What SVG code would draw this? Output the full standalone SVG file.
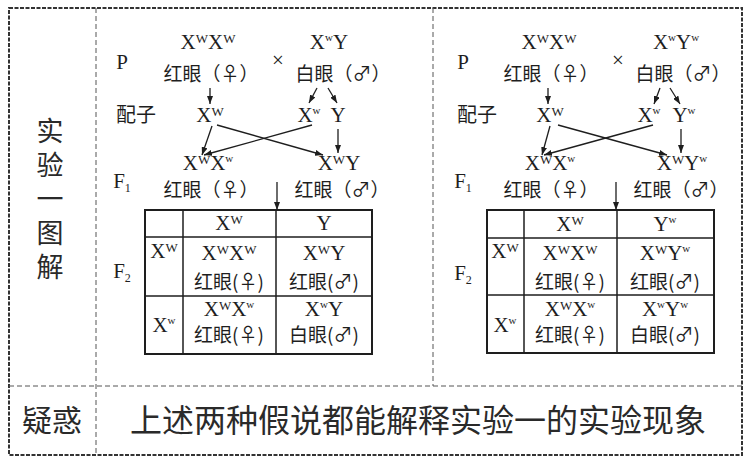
<svg xmlns="http://www.w3.org/2000/svg" width="755" height="473" viewBox="0 0 755 473">
<defs>
<style>
.lat{font-family:"Liberation Serif","Times New Roman",serif;font-size:21px;fill:#1e1e1e}
.cjk{font-family:"Noto Sans CJK SC","Noto Sans",sans-serif;font-size:19px;fill:#1e1e1e}
.big{font-family:"Noto Sans CJK SC","Noto Sans",sans-serif;font-size:30px;fill:#2a2a2a}
.col{font-family:"Noto Sans CJK SC","Noto Sans",sans-serif;font-size:27px;fill:#2a2a2a;writing-mode:vertical-rl;letter-spacing:7px}
.W{font-size:13px}
.w{font-size:11px}
.sub{font-size:12px}
.outer{fill:none;stroke:#333;stroke-width:2;stroke-dasharray:4 1.5}
.div{fill:none;stroke:#555;stroke-width:1;stroke-dasharray:5 3}
.tb{fill:none;stroke:#1e1e1e;stroke-width:2}
.tl{stroke:#1e1e1e;stroke-width:1.5}
.ar{stroke:#1e1e1e;stroke-width:1.3;fill:none;marker-end:url(#ah)}
</style>
<marker id="ah" viewBox="0 0 8 6" refX="8" refY="3" markerWidth="8" markerHeight="6" markerUnits="userSpaceOnUse" orient="auto"><path d="M0,0 L8,3 L0,6 z" fill="#1e1e1e"/></marker>
</defs>
<rect width="755" height="473" fill="#fff"/>

<g id="frame">
<rect class="outer" x="9" y="8" width="733" height="447"/>
<line class="div" x1="96" y1="8" x2="96" y2="455"/>
<line class="div" x1="433" y1="8" x2="433" y2="386"/>
<line class="div" x1="9" y1="386" x2="742" y2="386"/>
</g>

<g id="row-label-1">
<text class="col" x="50" y="117">实验一图解</text>
</g>
<g id="row-label-2"><text class="big" x="52" y="431" text-anchor="middle">疑惑</text></g>
<g id="conclusion"><text class="big" x="418" y="432" text-anchor="middle" style="font-size:32px">上述两种假说都能解释实验一的实验现象</text></g>

<!-- LEFT PANEL -->
<g id="L-labels">
<text class="lat" x="122" y="69" text-anchor="middle">P</text>
<text class="cjk" x="136" y="122" text-anchor="middle" style="font-size:20px">配子</text>
<text class="lat" x="122" y="188" text-anchor="middle">F<tspan class="sub" dy="4">1</tspan></text>
<text class="lat" x="122" y="278" text-anchor="middle">F<tspan class="sub" dy="4">2</tspan></text>
<text class="lat" x="278" y="67" text-anchor="middle" style="font-size:21px">×</text>
</g>
<g id="L-P-female">
<text class="lat" x="208" y="49" text-anchor="middle">X<tspan class="W" dy="-6">W</tspan><tspan dy="6">X</tspan><tspan class="W" dy="-6">W</tspan></text>
<text class="cjk" x="211" y="81" text-anchor="middle">红眼（♀）</text>
</g>
<g id="L-P-male">
<text class="lat" x="329" y="49" text-anchor="middle">X<tspan class="w" dy="-8">w</tspan><tspan dy="8">Y</tspan></text>
<text class="cjk" x="343" y="81" text-anchor="middle">白眼（♂）</text>
</g>
<g id="L-gam-1"><text class="lat" x="210" y="122" text-anchor="middle">X<tspan class="W" dy="-6">W</tspan></text></g>
<g id="L-gam-2"><text class="lat" x="309" y="122" text-anchor="middle">X<tspan class="w" dy="-8">w</tspan></text></g>
<g id="L-gam-3"><text class="lat" x="338" y="122" text-anchor="middle">Y</text></g>
<g id="L-F1-female">
<text class="lat" x="208" y="170" text-anchor="middle">X<tspan class="W" dy="-6">W</tspan><tspan dy="6">X</tspan><tspan class="w" dy="-8">w</tspan></text>
<text class="cjk" x="211" y="197" text-anchor="middle">红眼（♀）</text>
</g>
<g id="L-F1-male">
<text class="lat" x="339" y="170" text-anchor="middle">X<tspan class="W" dy="-6">W</tspan><tspan dy="6">Y</tspan></text>
<text class="cjk" x="342" y="197" text-anchor="middle">红眼（♂）</text>
</g>
<g id="L-table">
<rect class="tb" x="145" y="210" width="227" height="144"/>
<line class="tl" x1="145" y1="237" x2="372" y2="237"/>
<line class="tl" x1="145" y1="296" x2="372" y2="296"/>
<line class="tl" x1="183" y1="210" x2="183" y2="354"/>
<line class="tl" x1="276" y1="210" x2="276" y2="354"/>
<text class="lat" x="229" y="230" text-anchor="middle">X<tspan class="W" dy="-6">W</tspan></text>
<text class="lat" x="324" y="230" text-anchor="middle">Y</text>
<text class="lat" x="164" y="258" text-anchor="middle">X<tspan class="W" dy="-6">W</tspan></text>
<text class="lat" x="164" y="332" text-anchor="middle">X<tspan class="w" dy="-8">w</tspan></text>
<text class="lat" x="229" y="260" text-anchor="middle">X<tspan class="W" dy="-6">W</tspan><tspan dy="6">X</tspan><tspan class="W" dy="-6">W</tspan></text>
<text class="cjk" x="229" y="289" text-anchor="middle">红眼(♀)</text>
<text class="lat" x="324" y="260" text-anchor="middle">X<tspan class="W" dy="-6">W</tspan><tspan dy="6">Y</tspan></text>
<text class="cjk" x="324" y="289" text-anchor="middle">红眼(♂)</text>
<text class="lat" x="229" y="316" text-anchor="middle">X<tspan class="W" dy="-6">W</tspan><tspan dy="6">X</tspan><tspan class="w" dy="-8">w</tspan></text>
<text class="cjk" x="229" y="342" text-anchor="middle">红眼(♀)</text>
<text class="lat" x="324" y="316" text-anchor="middle">X<tspan class="w" dy="-8">w</tspan><tspan dy="8">Y</tspan></text>
<text class="cjk" x="324" y="342" text-anchor="middle">白眼(♂)</text>
</g>

<!-- RIGHT PANEL -->
<g id="R-labels">
<text class="lat" x="463" y="69" text-anchor="middle">P</text>
<text class="cjk" x="477" y="122" text-anchor="middle" style="font-size:20px">配子</text>
<text class="lat" x="463" y="188" text-anchor="middle">F<tspan class="sub" dy="4">1</tspan></text>
<text class="lat" x="463" y="280" text-anchor="middle">F<tspan class="sub" dy="4">2</tspan></text>
<text class="lat" x="618" y="67" text-anchor="middle" style="font-size:21px">×</text>
</g>
<g id="R-P-female">
<text class="lat" x="549" y="49" text-anchor="middle">X<tspan class="W" dy="-6">W</tspan><tspan dy="6">X</tspan><tspan class="W" dy="-6">W</tspan></text>
<text class="cjk" x="551" y="81" text-anchor="middle">红眼（♀）</text>
</g>
<g id="R-P-male">
<text class="lat" x="676" y="49" text-anchor="middle">X<tspan class="w" dy="-8">w</tspan><tspan dy="8">Y</tspan><tspan class="w" dy="-8">w</tspan></text>
<text class="cjk" x="683" y="81" text-anchor="middle">白眼（♂）</text>
</g>
<g id="R-gam-1"><text class="lat" x="550" y="122" text-anchor="middle">X<tspan class="W" dy="-6">W</tspan></text></g>
<g id="R-gam-2"><text class="lat" x="649" y="122" text-anchor="middle">X<tspan class="w" dy="-8">w</tspan></text></g>
<g id="R-gam-3"><text class="lat" x="684" y="122" text-anchor="middle">Y<tspan class="w" dy="-8">w</tspan></text></g>
<g id="R-F1-female">
<text class="lat" x="550" y="170" text-anchor="middle">X<tspan class="W" dy="-6">W</tspan><tspan dy="6">X</tspan><tspan class="w" dy="-8">w</tspan></text>
<text class="cjk" x="551" y="197" text-anchor="middle">红眼（♀）</text>
</g>
<g id="R-F1-male">
<text class="lat" x="682" y="170" text-anchor="middle">X<tspan class="W" dy="-6">W</tspan><tspan dy="6">Y</tspan><tspan class="w" dy="-8">w</tspan></text>
<text class="cjk" x="681" y="197" text-anchor="middle">红眼（♂）</text>
</g>
<g id="R-table">
<rect class="tb" x="487" y="210" width="227" height="143"/>
<line class="tl" x1="487" y1="238" x2="714" y2="238"/>
<line class="tl" x1="487" y1="295" x2="714" y2="295"/>
<line class="tl" x1="524" y1="210" x2="524" y2="353"/>
<line class="tl" x1="617" y1="210" x2="617" y2="353"/>
<text class="lat" x="570" y="231" text-anchor="middle">X<tspan class="W" dy="-6">W</tspan></text>
<text class="lat" x="665" y="231" text-anchor="middle">Y<tspan class="w" dy="-8">w</tspan></text>
<text class="lat" x="505" y="258" text-anchor="middle">X<tspan class="W" dy="-6">W</tspan></text>
<text class="lat" x="505" y="332" text-anchor="middle">X<tspan class="w" dy="-8">w</tspan></text>
<text class="lat" x="570" y="260" text-anchor="middle">X<tspan class="W" dy="-6">W</tspan><tspan dy="6">X</tspan><tspan class="W" dy="-6">W</tspan></text>
<text class="cjk" x="570" y="289" text-anchor="middle">红眼(♀)</text>
<text class="lat" x="665" y="260" text-anchor="middle">X<tspan class="W" dy="-6">W</tspan><tspan dy="6">Y</tspan><tspan class="w" dy="-8">w</tspan></text>
<text class="cjk" x="665" y="289" text-anchor="middle">红眼(♂)</text>
<text class="lat" x="570" y="316" text-anchor="middle">X<tspan class="W" dy="-6">W</tspan><tspan dy="6">X</tspan><tspan class="w" dy="-8">w</tspan></text>
<text class="cjk" x="570" y="342" text-anchor="middle">红眼(♀)</text>
<text class="lat" x="665" y="316" text-anchor="middle">X<tspan class="w" dy="-8">w</tspan><tspan dy="8">Y</tspan><tspan class="w" dy="-8">w</tspan></text>
<text class="cjk" x="665" y="342" text-anchor="middle">白眼(♂)</text>
</g>

<g id="connectors">
<line class="ar" x1="210" y1="88" x2="210" y2="104"/>
<line class="ar" x1="317" y1="88" x2="309" y2="103"/>
<line class="ar" x1="328" y1="88" x2="337" y2="103"/>
<line class="ar" x1="212" y1="126" x2="202" y2="155"/>
<line class="ar" x1="217" y1="125" x2="323" y2="155"/>
<line class="ar" x1="312" y1="125" x2="204" y2="155"/>
<line class="ar" x1="338" y1="129" x2="338" y2="153"/>
<line class="ar" x1="277" y1="182" x2="277" y2="210"/>

<line class="ar" x1="548" y1="88" x2="548" y2="104"/>
<line class="ar" x1="660" y1="88" x2="654" y2="104"/>
<line class="ar" x1="670" y1="88" x2="680" y2="104"/>
<line class="ar" x1="550" y1="126" x2="542" y2="155"/>
<line class="ar" x1="558" y1="125" x2="667" y2="155"/>
<line class="ar" x1="653" y1="125" x2="544" y2="155"/>
<line class="ar" x1="681" y1="129" x2="681" y2="153"/>
<line class="ar" x1="616" y1="182" x2="616" y2="210"/>
</g>
</svg>
